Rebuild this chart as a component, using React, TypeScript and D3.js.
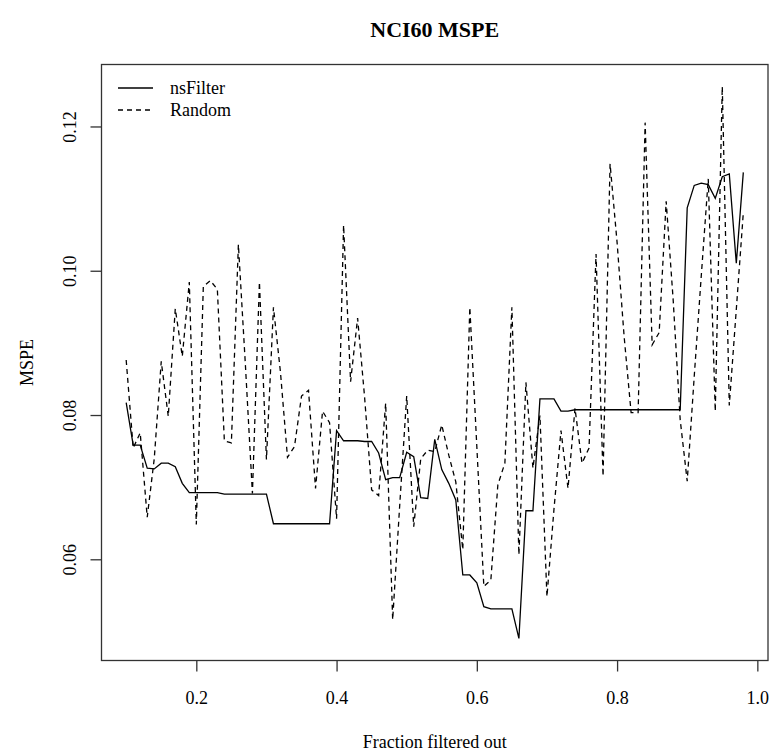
import * as d3 from "d3";
import { useEffect, useRef } from "react";

const fractions = [
  0.1, 0.11, 0.12, 0.13, 0.14, 0.15, 0.16, 0.17, 0.18, 0.19,
  0.2, 0.21, 0.22, 0.23, 0.24, 0.25, 0.26, 0.27, 0.28, 0.29,
  0.3, 0.31, 0.32, 0.33, 0.34, 0.35, 0.36, 0.37, 0.38, 0.39,
  0.4, 0.41, 0.42, 0.43, 0.44, 0.45, 0.46, 0.47, 0.48, 0.49,
  0.5, 0.51, 0.52, 0.53, 0.54, 0.55, 0.56, 0.57, 0.58, 0.59,
  0.6, 0.61, 0.62, 0.63, 0.64, 0.65, 0.66, 0.67, 0.68, 0.69,
  0.7, 0.71, 0.72, 0.73, 0.74, 0.75, 0.76, 0.77, 0.78, 0.79,
  0.8, 0.81, 0.82, 0.83, 0.84, 0.85, 0.86, 0.87, 0.88, 0.89,
  0.9, 0.91, 0.92, 0.93, 0.94, 0.95, 0.96, 0.97, 0.98,
];

const nsFilter = [
  0.0818, 0.0759, 0.0759, 0.0727, 0.0726, 0.0734, 0.0734, 0.0729, 0.0706, 0.0693,
  0.0693, 0.0693, 0.0693, 0.0693, 0.0691, 0.0691, 0.0691, 0.0691, 0.0691, 0.0691,
  0.0691, 0.065, 0.065, 0.065, 0.065, 0.065, 0.065, 0.065, 0.065, 0.065,
  0.0779, 0.0765, 0.0765, 0.0765, 0.0764, 0.0764, 0.0748, 0.0711, 0.0714, 0.0714,
  0.0749, 0.0743, 0.0686, 0.0685, 0.0767, 0.0725, 0.0706, 0.0683, 0.0579, 0.0579,
  0.0568, 0.0535, 0.0532, 0.0532, 0.0532, 0.0532, 0.0491, 0.0668, 0.0668, 0.0823,
  0.0823, 0.0823, 0.0806, 0.0806, 0.0808, 0.0808, 0.0808, 0.0808, 0.0808, 0.0808,
  0.0808, 0.0808, 0.0808, 0.0808, 0.0808, 0.0808, 0.0808, 0.0808, 0.0808, 0.0808,
  0.1088, 0.1119, 0.1122, 0.112, 0.1101, 0.1131, 0.1135, 0.1011, 0.1137,
];

const random = [
  0.0877, 0.0755, 0.0776, 0.0659, 0.074, 0.0875, 0.0799, 0.0948, 0.0882, 0.0985,
  0.0649, 0.0979, 0.0987, 0.0975, 0.0765, 0.0762, 0.1037, 0.087, 0.0692, 0.0985,
  0.0739, 0.095, 0.086, 0.0742, 0.0757, 0.0827, 0.0835, 0.0699, 0.0806, 0.079,
  0.0657, 0.1064, 0.0847, 0.0935, 0.0825, 0.0697, 0.0689, 0.0817, 0.0517, 0.0675,
  0.0827, 0.0646, 0.074, 0.0752, 0.075, 0.0787, 0.0745, 0.0708, 0.0614, 0.095,
  0.0757, 0.0563, 0.0572, 0.0704, 0.0734, 0.095, 0.0607, 0.0846, 0.0727, 0.08,
  0.0549, 0.067, 0.0779, 0.0699, 0.081, 0.0734, 0.0755, 0.1024, 0.0716, 0.1149,
  0.104, 0.091, 0.0804, 0.0804, 0.1206, 0.0898, 0.0915, 0.1097, 0.096, 0.0794,
  0.0709, 0.0854, 0.0993, 0.1128, 0.0806, 0.1256, 0.0814, 0.0947, 0.1081,
];

const xTicks = [0.2, 0.4, 0.6, 0.8, 1.0];
const yTicks = [0.06, 0.08, 0.1, 0.12];
const seriesNames = ["nsFilter", "Random"];
const seriesDash: Record<string, string | null> = { nsFilter: null, Random: "5,4" };

const width = 772;
const height = 754;
const box = { left: 101.5, right: 768, top: 64.5, bottom: 660.5 };
const font = "'Liberation Serif', 'Times New Roman', serif";

export default function App() {
  const svgRef = useRef<SVGSVGElement | null>(null);

  useEffect(() => {
    if (!svgRef.current) return;
    const svg = d3.select(svgRef.current);
    svg.selectAll("*").remove();

    // R-style 4% padding of the data range
    const xExt = d3.extent(fractions) as [number, number];
    const xPad = (xExt[1] - xExt[0]) * 0.04;
    const yExt = d3.extent([...nsFilter, ...random]) as [number, number];
    const yPad = (yExt[1] - yExt[0]) * 0.04;

    const x = d3
      .scaleLinear()
      .domain([xExt[0] - xPad, xExt[1] + xPad])
      .range([box.left, box.right]);
    const y = d3
      .scaleLinear()
      .domain([yExt[0] - yPad, yExt[1] + yPad])
      .range([box.bottom, box.top]);

    svg
      .append("rect")
      .attr("width", width)
      .attr("height", height)
      .attr("fill", "#fff");

    const line = d3
      .line<number>()
      .x((_, i) => x(fractions[i]))
      .y((d) => y(d));

    const seriesData: Record<string, number[]> = { nsFilter, Random: random };

    svg
      .append("g")
      .selectAll("path")
      .data(seriesNames)
      .join("path")
      .attr("fill", "none")
      .attr("stroke", "#000")
      .attr("stroke-width", 1.3)
      .attr("stroke-dasharray", (k) => seriesDash[k])
      .attr("d", (k) => line(seriesData[k]));

    // box
    svg
      .append("rect")
      .attr("x", box.left)
      .attr("y", box.top)
      .attr("width", box.right - box.left)
      .attr("height", box.bottom - box.top)
      .attr("fill", "none")
      .attr("stroke", "#333")
      .attr("stroke-width", 1.3);

    const xAxis = svg
      .append("g")
      .attr("transform", `translate(0, ${box.bottom})`)
      .call(d3.axisBottom(x).tickValues(xTicks).tickSize(11).tickPadding(20).tickFormat(d3.format(".1f")));
    xAxis.select(".domain").remove();
    xAxis.selectAll("line").attr("stroke", "#333").attr("stroke-width", 1.3);
    xAxis
      .selectAll("text")
      .attr("fill", "#000")
      .style("font-family", font)
      .style("font-size", "18px");

    const yAxis = svg
      .append("g")
      .attr("transform", `translate(${box.left}, 0)`)
      .call(d3.axisLeft(y).tickValues(yTicks).tickSize(11).tickFormat(d3.format(".2f")));
    yAxis.select(".domain").remove();
    yAxis.selectAll("line").attr("stroke", "#333").attr("stroke-width", 1.3);
    yAxis
      .selectAll("text")
      .attr("fill", "#000")
      .attr("x", null)
      .attr("dy", null)
      .attr("text-anchor", "middle")
      .attr("transform", (d) => `translate(${-26}, ${y(d as number)}) rotate(-90)`)
      .attr("y", 0)
      .style("font-family", font)
      .style("font-size", "18px");
    yAxis.selectAll(".tick").attr("transform", null);
    yAxis
      .selectAll(".tick line")
      .attr("y1", (d) => y(d as number))
      .attr("y2", (d) => y(d as number));

    svg
      .append("text")
      .attr("x", (box.left + box.right) / 2)
      .attr("y", 37)
      .attr("text-anchor", "middle")
      .style("font-family", font)
      .style("font-size", "22px")
      .style("font-weight", "bold")
      .text("NCI60 MSPE");

    svg
      .append("text")
      .attr("x", (box.left + box.right) / 2)
      .attr("y", 748)
      .attr("text-anchor", "middle")
      .style("font-family", font)
      .style("font-size", "18px")
      .text("Fraction filtered out");

    svg
      .append("text")
      .attr("transform", `translate(33, ${(box.top + box.bottom) / 2}) rotate(-90)`)
      .attr("text-anchor", "middle")
      .style("font-family", font)
      .style("font-size", "18px")
      .text("MSPE");

    const legend = svg
      .append("g")
      .selectAll("g")
      .data(seriesNames)
      .join("g")
      .attr("transform", (_, i) => `translate(118, ${88 + i * 22})`);
    legend
      .append("line")
      .attr("x1", 0)
      .attr("x2", 35)
      .attr("stroke", "#000")
      .attr("stroke-width", 1.3)
      .attr("stroke-dasharray", (k) => seriesDash[k]);
    legend
      .append("text")
      .attr("x", 52)
      .attr("dy", "0.35em")
      .style("font-family", font)
      .style("font-size", "18px")
      .text((k) => k);
  }, []);

  return (
    <div style={{ position: "absolute", left: 0, top: 0 }}>
      <svg ref={svgRef} width={width} height={height} style={{ display: "block" }} />
    </div>
  );
}
